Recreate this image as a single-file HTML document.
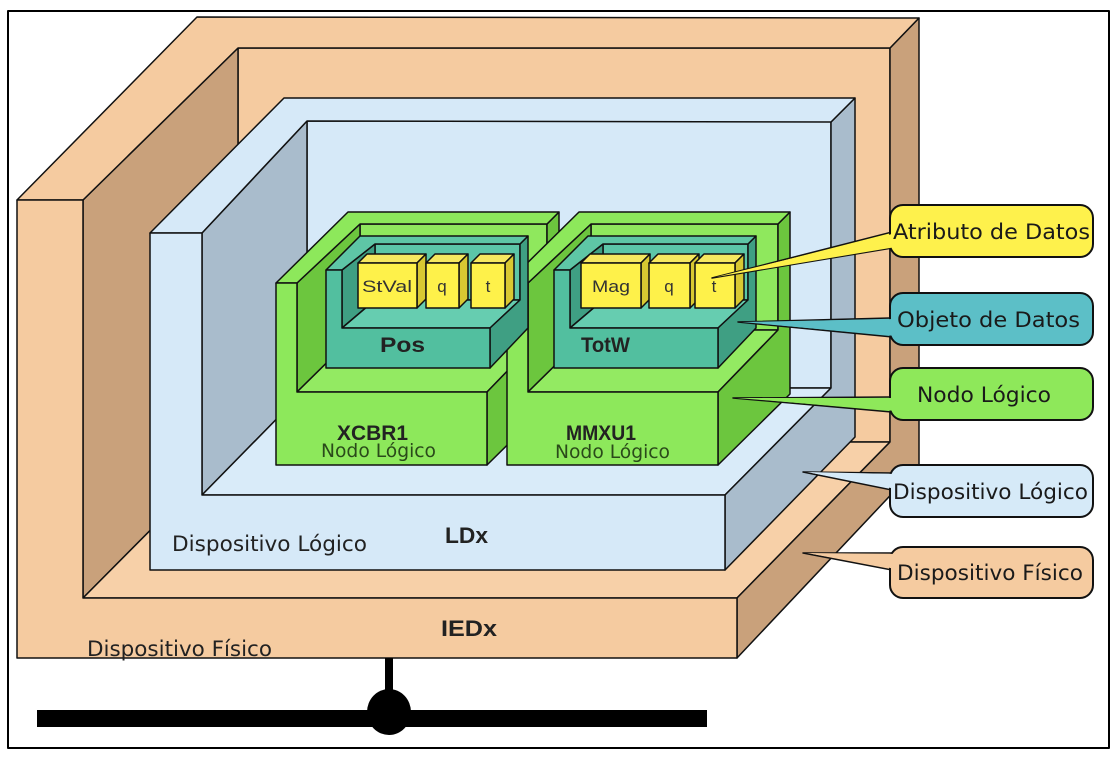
<!DOCTYPE html>
<html><head><meta charset="utf-8"><style>
html,body{margin:0;padding:0;background:#fff;width:1114px;height:758px;overflow:hidden}
svg{display:block}
text{font-family:"DejaVu Sans Condensed","DejaVu Sans","Liberation Sans",sans-serif}
.a{font-family:"Liberation Sans",Arial,sans-serif}
</style></head><body>
<svg width="1114" height="758" viewBox="0 0 1114 758" xmlns="http://www.w3.org/2000/svg" stroke="#111" stroke-width="1.5" stroke-linejoin="round">
<rect x="8" y="11" width="1101" height="737" fill="#fff" stroke="#000" stroke-width="2"/>

<!-- IED -->
<g>
<polygon points="238,48 890,48 890,442 238,442" fill="#f5cba0"/>
<polygon points="83,200 238,48 238,442 83,598" fill="#c9a17b"/>
<polygon points="83,598 737,598 890,442 238,442" fill="#f7d0a8"/>
<polygon points="890,48 919,18 919,465 737,658 737,598 890,442" fill="#c9a17b"/>
<polygon points="17,200 197,17 919,18 890,48 238,48 83,200" fill="#f5cba0"/>
<polygon points="17,200 83,200 83,598 737,598 737,658 17,658" fill="#f5cba0"/>
</g>

<!-- LD -->
<g>
<polygon points="307,121 831,121 831,388 307,388" fill="#d6e9f8"/>
<polygon points="202,233 307,121 307,388 202,495" fill="#a9bccc"/>
<polygon points="202,495 725,495 831,388 307,388" fill="#d9ebf9"/>
<polygon points="831,122 855,98 855,437 725,570 725,495 831,388" fill="#a9bccc"/>
<polygon points="150,233 284,98 855,98 831,122 307,121 202,233" fill="#d6e9f8"/>
<polygon points="150,233 202,233 202,495 725,495 725,570 150,570" fill="#d6e9f8"/>
</g>

<!-- LN boxes -->
<g>
<polygon points="360,224 547,224 547,330 360,330" fill="#8fe85d"/>
<polygon points="297,283 360,224 360,330 297,392" fill="#6cc63e"/>
<polygon points="297,392 487,392 547,330 360,330" fill="#93ea62"/>
<polygon points="547,224 559,212 559,394 487,465 487,392 547,330" fill="#6cc63e"/>
<polygon points="276,283 348,212 559,212 547,224 360,224 297,283" fill="#8de85b"/>
<polygon points="276,283 297,283 297,392 487,392 487,465 276,465" fill="#8de85b"/>
</g>
<g transform="translate(231,0)">
<polygon points="360,224 547,224 547,330 360,330" fill="#8fe85d"/>
<polygon points="297,283 360,224 360,330 297,392" fill="#6cc63e"/>
<polygon points="297,392 487,392 547,330 360,330" fill="#93ea62"/>
<polygon points="547,224 559,212 559,394 487,465 487,392 547,330" fill="#6cc63e"/>
<polygon points="276,283 348,212 559,212 547,224 360,224 297,283" fill="#8de85b"/>
<polygon points="276,283 297,283 297,392 487,392 487,465 276,465" fill="#8de85b"/>
</g>

<!-- DO boxes -->
<g>
<polygon points="375,244 520,244 520,300 375,300" fill="#5cc6a8"/>
<polygon points="342,270 375,244 375,300 342,328" fill="#3f9f83"/>
<polygon points="342,328 490,328 520,300 375,300" fill="#66cdb0"/>
<polygon points="520,244 528,236 528,328 490,368 490,328 520,300" fill="#3f9f83"/>
<polygon points="326,270 360,236 528,236 520,244 375,244 342,270" fill="#5ec6a6"/>
<polygon points="326,270 342,270 342,328 490,328 490,368 326,368" fill="#52bf9f"/>
</g>
<g transform="translate(228,0)">
<polygon points="375,244 520,244 520,300 375,300" fill="#5cc6a8"/>
<polygon points="342,270 375,244 375,300 342,328" fill="#3f9f83"/>
<polygon points="342,328 490,328 520,300 375,300" fill="#66cdb0"/>
<polygon points="520,244 528,236 528,328 490,368 490,328 520,300" fill="#3f9f83"/>
<polygon points="326,270 360,236 528,236 520,244 375,244 342,270" fill="#5ec6a6"/>
<polygon points="326,270 342,270 342,328 490,328 490,368 326,368" fill="#52bf9f"/>
</g>

<!-- cubes -->
<g>
<polygon points="358,263 367,254 426,254 417,263" fill="#f6e860"/><polygon points="417,263 426,254 426,299 417,308" fill="#d8c832"/><rect x="358" y="263" width="59" height="45" fill="#fef14a"/>
<polygon points="426,263 435,254 468,254 459,263" fill="#f6e860"/><polygon points="459,263 468,254 468,299 459,308" fill="#d8c832"/><rect x="426" y="263" width="33" height="45" fill="#fef14a"/>
<polygon points="471,263 480,254 514,254 505,263" fill="#f6e860"/><polygon points="505,263 514,254 514,299 505,308" fill="#d8c832"/><rect x="471" y="263" width="34" height="45" fill="#fef14a"/>
<polygon points="581,263 590,254 650,254 641,263" fill="#f6e860"/><polygon points="641,263 650,254 650,299 641,308" fill="#d8c832"/><rect x="581" y="263" width="60" height="45" fill="#fef14a"/>
<polygon points="649,263 658,254 699,254 690,263" fill="#f6e860"/><polygon points="690,263 699,254 699,299 690,308" fill="#d8c832"/><rect x="649" y="263" width="41" height="45" fill="#fef14a"/>
<polygon points="695,263 704,254 744,254 735,263" fill="#f6e860"/><polygon points="735,263 744,254 744,299 735,308" fill="#d8c832"/><rect x="695" y="263" width="40" height="45" fill="#fef14a"/>
</g>
<g font-size="17" fill="#333" stroke="none" text-anchor="middle">
<text x="387" y="292" class="a" textLength="50" lengthAdjust="spacingAndGlyphs">StVal</text><text x="442" y="292" class="a">q</text><text x="488" y="292" class="a">t</text>
<text x="611" y="292" class="a" textLength="38" lengthAdjust="spacingAndGlyphs">Mag</text><text x="669" y="292" class="a">q</text><text x="714" y="292" class="a">t</text>
</g>

<!-- labels inside -->
<g stroke="none" fill="#222">
<text x="380" y="352" font-size="21" font-weight="bold" class="a" textLength="45" lengthAdjust="spacingAndGlyphs">Pos</text>
<text x="581" y="352" font-size="21" font-weight="bold" class="a" textLength="49" lengthAdjust="spacingAndGlyphs">TotW</text>
<text x="337" y="440" font-size="21" font-weight="bold" class="a" textLength="71" lengthAdjust="spacingAndGlyphs">XCBR1</text>
<text x="566" y="440" font-size="21" font-weight="bold" class="a" textLength="70" lengthAdjust="spacingAndGlyphs">MMXU1</text>
<text x="321" y="457" font-size="19" fill="#2a4a1a" textLength="115" lengthAdjust="spacingAndGlyphs">Nodo Lógico</text>
<text x="555" y="458" font-size="19" fill="#2a4a1a" textLength="115" lengthAdjust="spacingAndGlyphs">Nodo Lógico</text>
<text x="445" y="543" font-size="22" font-weight="bold" class="a" textLength="43" lengthAdjust="spacingAndGlyphs">LDx</text>
<text x="441" y="636" font-size="22" font-weight="bold" class="a" textLength="56" lengthAdjust="spacingAndGlyphs">IEDx</text>
<text x="172" y="551" font-size="21" textLength="195" lengthAdjust="spacingAndGlyphs">Dispositivo Lógico</text>
<text x="87" y="656" font-size="21" textLength="185" lengthAdjust="spacingAndGlyphs">Dispositivo Físico</text>
</g>

<!-- callouts -->
<g>
<polygon points="712,278 892,232 892,248" fill="#fef14c"/>
<rect x="890" y="205" width="203" height="52" rx="13" fill="#fef14c" stroke-width="2"/>
<polygon points="716,277 896,233 896,247" fill="#fef14c" stroke="none"/>
<polygon points="738,322 892,318 892,337" fill="#5cbfc7"/>
<rect x="890" y="293" width="203" height="52" rx="13" fill="#5cbfc7" stroke-width="2"/>
<polygon points="742,322 896,319 896,336" fill="#5cbfc7" stroke="none"/>
<polygon points="733,398 892,397 892,412" fill="#8ee85a"/>
<rect x="890" y="368" width="203" height="52" rx="13" fill="#8ee85a" stroke-width="2"/>
<polygon points="737,398 896,398 896,411" fill="#8ee85a" stroke="none"/>
<polygon points="803,472 892,473 892,490" fill="#d6eaf8"/>
<rect x="890" y="465" width="203" height="52" rx="13" fill="#d6eaf8" stroke-width="2"/>
<polygon points="807,472 896,474 896,489" fill="#d6eaf8" stroke="none"/>
<polygon points="803,553 892,553 892,570" fill="#f5cba0"/>
<rect x="890" y="547" width="203" height="51" rx="13" fill="#f5cba0" stroke-width="2"/>
<polygon points="807,553 896,554 896,569" fill="#f5cba0" stroke="none"/>
</g>
<g stroke="none" fill="#1a1a1a" font-size="21">
<text x="893" y="239" textLength="197" lengthAdjust="spacingAndGlyphs">Atributo de Datos</text>
<text x="897" y="327" textLength="183" lengthAdjust="spacingAndGlyphs">Objeto de Datos</text>
<text x="917" y="402" textLength="134" lengthAdjust="spacingAndGlyphs">Nodo Lógico</text>
<text x="893" y="499" textLength="195" lengthAdjust="spacingAndGlyphs">Dispositivo Lógico</text>
<text x="897" y="580" textLength="186" lengthAdjust="spacingAndGlyphs">Dispositivo Físico</text>
</g>

<!-- bus -->
<rect x="385" y="658" width="8" height="50" fill="#000" stroke="none"/>
<rect x="37" y="710" width="670" height="17" fill="#000" stroke="none"/>
<ellipse cx="389" cy="712" rx="22" ry="23" fill="#000" stroke="none"/>
</svg>
</body></html>
